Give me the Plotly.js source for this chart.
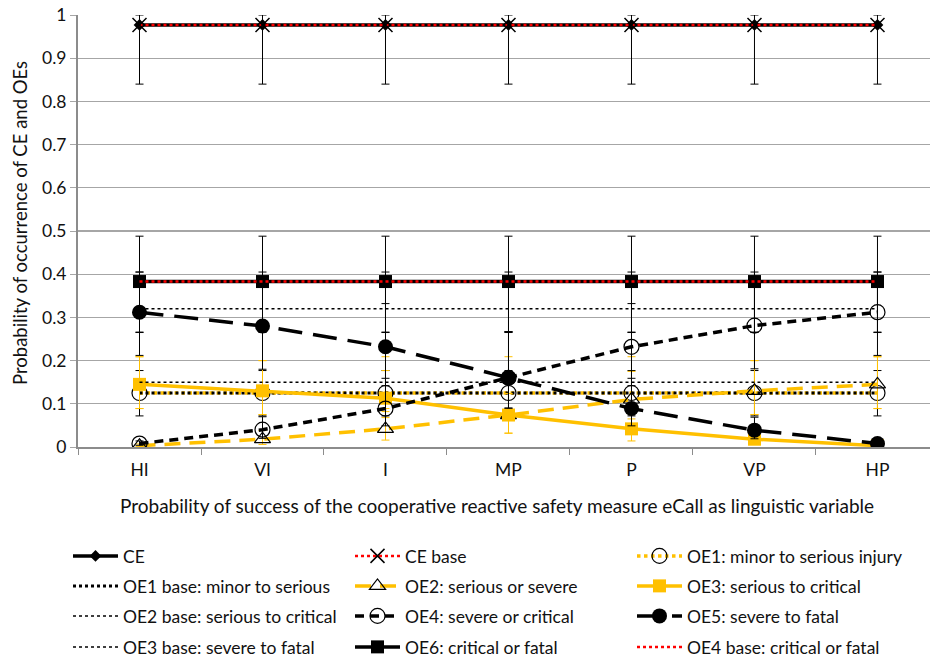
<!DOCTYPE html>
<html>
<head>
<meta charset="utf-8">
<script src="https://cdn.plot.ly/plotly-3.0.1.min.js"></script>
<style>
  html, body { margin: 0; padding: 0; background: #fff; overflow: hidden; }
  #chart { width: 930px; height: 663px; }
</style>
</head>
<body>
<div id="chart"></div>
<script>
// Linguistic levels of eCall success probability
const categories = ['HI', 'VI', 'I', 'MP', 'P', 'VP', 'HP'];

// Critical event (CE) and its base case
const ce      = [0.977, 0.977, 0.977, 0.977, 0.977, 0.977, 0.977];
const ceBase  = [0.977, 0.977, 0.977, 0.977, 0.977, 0.977, 0.977];
const cePlus  = [0.023, 0.023, 0.023, 0.023, 0.023, 0.023, 0.023];
const ceMinus = [0.137, 0.137, 0.137, 0.137, 0.137, 0.137, 0.137];

// Outcome events (OEs) with eCall
const oe1 = [0.125, 0.125, 0.125, 0.125, 0.125, 0.125, 0.125];
const oe2 = [0.003, 0.018, 0.042, 0.074, 0.11, 0.13, 0.145];
const oe3 = [0.145, 0.13, 0.113, 0.074, 0.042, 0.018, 0.003];
const oe4 = [0.008, 0.04, 0.089, 0.16, 0.232, 0.281, 0.312];
const oe5 = [0.312, 0.28, 0.232, 0.16, 0.089, 0.039, 0.008];
const oe6 = [0.383, 0.383, 0.383, 0.383, 0.383, 0.383, 0.383];

// Outcome events of the base case
const oe1Base = [0.125, 0.125, 0.125, 0.125, 0.125, 0.125, 0.125];
const oe2Base = [0.15, 0.15, 0.15, 0.15, 0.15, 0.15, 0.15];
const oe3Base = [0.32, 0.32, 0.32, 0.32, 0.32, 0.32, 0.32];
const oe4Base = [0.383, 0.383, 0.383, 0.383, 0.383, 0.383, 0.383];

// Uncertainty ranges (upper / lower distance from the value)
const oe1Plus  = [0.084, 0.075, 0.084, 0.084, 0.084, 0.075, 0.084];
const oe1Minus = [0.036, 0.05, 0.036, 0.036, 0.036, 0.05, 0.036];
const oe1BasePlus  = [0.052, 0.052, 0.052, 0.052, 0.052, 0.052, 0.052];
const oe1BaseMinus = [0.053, 0.053, 0.053, 0.053, 0.053, 0.053, 0.053];
const oe2Plus  = [0.004, 0.02, 0.04, 0.05, 0.065, 0.07, 0.064];
const oe2Minus = [0.002, 0.012, 0.026, 0.042, 0.045, 0.055, 0.056];
const oe3Plus  = [0.064, 0.07, 0.064, 0.05, 0.04, 0.02, 0.004];
const oe3Minus = [0.056, 0.055, 0.045, 0.042, 0.028, 0.012, 0.002];
const oe3BasePlus  = [0.085, 0.085, 0.085, 0.085, 0.085, 0.085, 0.085];
const oe3BaseMinus = [0.055, 0.055, 0.055, 0.055, 0.055, 0.055, 0.055];
const oe4Plus  = [0.006, 0.03, 0.07, 0.107, 0.1, 0.1, 0.093];
const oe4Minus = [0.004, 0.02, 0.04, 0.07, 0.09, 0.1, 0.1];
const oe5Plus  = [0.093, 0.1, 0.1, 0.107, 0.07, 0.03, 0.006];
const oe5Minus = [0.1, 0.1, 0.09, 0.07, 0.04, 0.02, 0.004];
const oe6Plus  = [0.105, 0.105, 0.105, 0.105, 0.105, 0.105, 0.105];
const oe6Minus = [0.117, 0.117, 0.117, 0.117, 0.117, 0.117, 0.117];

const GOLD = '#FFC000';
const RED = '#FF0000';
const BLACK = '#000000';

function errBars(plus, minus, color) {
  return { type: 'data', symmetric: false, array: plus, arrayminus: minus,
           color: color, thickness: 1, width: 4 };
}

function series(name, y, legendId, line, marker, err) {
  const t = { x: categories, y: y, name: name, type: 'scatter', legend: legendId,
              mode: marker ? 'lines+markers' : 'lines', line: line };
  if (marker) t.marker = marker;
  if (err) t.error_y = err;
  return t;
}

// One legend per row, three entries each
const traces = [
  series('CE', ce, 'legend', { color: BLACK, width: 3.5 },
         { symbol: 'diamond', size: 9, color: BLACK },
         errBars(cePlus, ceMinus, BLACK)),
  series('CE base', ceBase, 'legend', { color: RED, width: 2.5, dash: 'dot' },
         { symbol: 'x-thin-open', size: 14, color: BLACK, line: { color: BLACK, width: 1.5 } }),
  series('OE1: minor to serious injury', oe1, 'legend', { color: GOLD, width: 3.5, dash: 'dot' },
         { symbol: 'circle-open', size: 15, color: BLACK, line: { width: 1.2 } },
         errBars(oe1Plus, oe1Minus, GOLD)),

  series('OE1 base: minor to serious', oe1Base, 'legend2', { color: BLACK, width: 3, dash: 'dot' }, null,
         errBars(oe1BasePlus, oe1BaseMinus, BLACK)),
  series('OE2: serious or severe', oe2, 'legend2', { color: GOLD, width: 3.5, dash: '16px,9px' },
         { symbol: 'triangle-up-open', size: 14, color: BLACK, line: { width: 1.2 } },
         errBars(oe2Plus, oe2Minus, GOLD)),
  series('OE3: serious to critical', oe3, 'legend2', { color: GOLD, width: 3.5 },
         { symbol: 'square', size: 13, color: GOLD },
         errBars(oe3Plus, oe3Minus, GOLD)),

  series('OE2 base: serious to critical', oe2Base, 'legend3', { color: BLACK, width: 1.5, dash: 'dot' }, null),
  series('OE4: severe or critical', oe4, 'legend3', { color: BLACK, width: 3.5, dash: '9px,6px' },
         { symbol: 'circle-open', size: 15, color: BLACK, line: { width: 1.2 } },
         errBars(oe4Plus, oe4Minus, BLACK)),
  series('OE5: severe to fatal', oe5, 'legend3', { color: BLACK, width: 3.5, dash: '24px,11px' },
         { symbol: 'circle', size: 15, color: BLACK },
         errBars(oe5Plus, oe5Minus, BLACK)),

  series('OE3 base: severe to fatal', oe3Base, 'legend4', { color: BLACK, width: 1.5, dash: 'dot' }, null,
         errBars(oe3BasePlus, oe3BaseMinus, BLACK)),
  series('OE6: critical or fatal', oe6, 'legend4', { color: BLACK, width: 3.5 },
         { symbol: 'square', size: 13, color: BLACK },
         errBars(oe6Plus, oe6Minus, BLACK)),
  series('OE4 base: critical or fatal', oe4Base, 'legend4', { color: RED, width: 2.5, dash: 'dot' }, null)
];

const FONT = 'Lato, "Open Sans", sans-serif';
const TEXT = '#111111';
const GRID = '#a6a6a6';

// Plot area in pixels, used to place titles and legend rows
const PLOT_L = 78, PLOT_W = 852, PLOT_T = 15, PLOT_H = 432;
const H = 663;

function rowLegend(rowCentreY) {
  return {
    orientation: 'h', xref: 'container', yref: 'container',
    x: 68 / 930, y: 1 - (rowCentreY - 19) / H, xanchor: 'left', yanchor: 'top',
    entrywidth: 222, entrywidthmode: 'pixels', itemwidth: 45,
    font: { family: FONT, size: 17.5, color: TEXT },
    bgcolor: 'rgba(0,0,0,0)', traceorder: 'normal'
  };
}

const layout = {
  width: 930, height: H,
  margin: { l: PLOT_L, r: 930 - PLOT_L - PLOT_W, t: PLOT_T, b: H - PLOT_T - PLOT_H, pad: 0 },
  paper_bgcolor: '#ffffff', plot_bgcolor: '#ffffff',
  font: { family: FONT, size: 16, color: TEXT },
  showlegend: true,
  xaxis: {
    type: 'category', range: [-0.5, 6.427],
    showgrid: false, zeroline: false,
    showline: true, linecolor: '#8c8c8c', linewidth: 2,
    ticks: 'outside', tickson: 'boundaries', ticklen: 6, tickcolor: '#8c8c8c', tickwidth: 1,
    tickfont: { family: FONT, size: 17.5, color: TEXT },
    ticklabelstandoff: 6
  },
  yaxis: {
    range: [0, 1], dtick: 0.1, tick0: 0,
    showgrid: true, gridcolor: GRID, gridwidth: 1.3,
    zeroline: false, showline: true, linecolor: '#8c8c8c', linewidth: 2,
    ticks: 'outside', ticklen: 6, tickcolor: GRID, tickwidth: 1,
    tickfont: { family: FONT, size: 17.5, color: TEXT }
  },
  legend: rowLegend(557),
  legend2: rowLegend(587),
  legend3: rowLegend(617),
  legend4: rowLegend(648),
  annotations: [
    { text: 'Probability of success of the cooperative reactive safety measure eCall as linguistic variable',
      xref: 'paper', yref: 'paper', x: (497 - PLOT_L) / PLOT_W, y: (PLOT_T + PLOT_H - 505) / PLOT_H,
      xanchor: 'center', yanchor: 'middle', showarrow: false,
      font: { family: FONT, size: 19, color: TEXT } },
    { text: 'Probability of occurrence of CE and OEs', textangle: -90,
      xref: 'paper', yref: 'paper', x: (20 - PLOT_L) / PLOT_W, y: (PLOT_T + PLOT_H - 223) / PLOT_H,
      xanchor: 'center', yanchor: 'middle', showarrow: false,
      font: { family: FONT, size: 18.5, color: TEXT } }
  ]
};

Plotly.newPlot('chart', traces, layout, { displayModeBar: false, staticPlot: true });
</script>
</body>
</html>
